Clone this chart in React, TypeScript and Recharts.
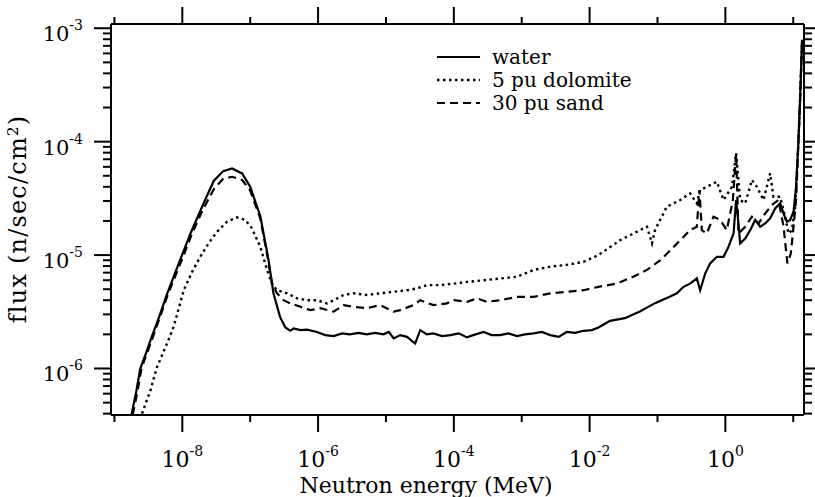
import React from 'react';
import { LineChart, Line, XAxis, YAxis, Legend, Label } from 'recharts';

// ---- data (energy in MeV, flux in n/sec/cm^2) ----
const waterEnergy = [
  1.78e-9, 2.1e-9, 2.4e-9, 2.9e-9, 3.4e-9, 4.5e-9, 6.0e-9, 8.9e-9, 1.32e-8, 2.0e-8,
  2.9e-8, 4.0e-8, 5.4e-8, 7.6e-8, 1.0e-7, 1.41e-7, 1.86e-7, 2.2e-7, 2.75e-7, 3.3e-7,
  3.9e-7, 4.37e-7, 5.5e-7, 6.9e-7, 9.6e-7, 1.28e-6, 1.7e-6, 2.25e-6, 2.95e-6, 3.95e-6,
  5.2e-6, 6.95e-6, 9.2e-6, 1.1e-5, 1.3e-5, 1.62e-5, 2.04e-5, 2.69e-5, 3.2e-5, 4.0e-5,
  5.0e-5, 6.7e-5, 8.9e-5, 1.18e-4, 1.56e-4, 2.09e-4, 2.75e-4, 3.6e-4, 4.8e-4, 6.4e-4,
  8.5e-4, 1.12e-3, 1.5e-3, 1.98e-3, 2.63e-3, 3.5e-3, 4.6e-3, 6.1e-3, 8.1e-3, 1.08e-2,
  1.35e-2, 2.0e-2, 3.3e-2, 5.6e-2, 9.2e-2, 0.151, 0.193, 0.242, 0.302, 0.38,
  0.425, 0.505, 0.597, 0.75, 0.94, 1.11, 1.32, 1.44, 1.51, 1.65,
  1.96, 2.32, 2.75, 3.26, 3.86, 4.57, 5.41, 6.41, 7.18, 8.05,
  9.0, 10.1, 11.0, 11.9, 12.6, 13.2, 13.5,
];
const waterFlux = [
  3.9e-7, 6.3e-7, 1.0e-6, 1.35e-6, 1.78e-6, 2.8e-6, 4.6e-6, 8.5e-6, 1.55e-5, 2.75e-5,
  4.5e-5, 5.5e-5, 5.8e-5, 5.25e-5, 4.0e-5, 2.2e-5, 9.1e-6, 4.6e-6, 2.85e-6, 2.3e-6,
  2.15e-6, 2.25e-6, 2.18e-6, 2.2e-6, 2.1e-6, 1.97e-6, 1.93e-6, 2.04e-6, 2.0e-6, 2.06e-6,
  2.0e-6, 2.06e-6, 2.0e-6, 2.1e-6, 1.84e-6, 1.97e-6, 1.9e-6, 1.66e-6, 2.18e-6, 2.0e-6,
  2.04e-6, 1.93e-6, 1.97e-6, 2.04e-6, 1.88e-6, 2.0e-6, 2.1e-6, 1.97e-6, 1.97e-6, 2.04e-6,
  1.93e-6, 2.0e-6, 2.04e-6, 2.1e-6, 1.97e-6, 1.9e-6, 2.1e-6, 2.06e-6, 2.15e-6, 2.18e-6,
  2.3e-6, 2.63e-6, 2.78e-6, 3.2e-6, 3.77e-6, 4.29e-6, 4.6e-6, 5.25e-6, 5.6e-6, 6.22e-6,
  4.9e-6, 6.9e-6, 8.45e-6, 9.66e-6, 9.66e-6, 1.18e-5, 1.55e-5, 3.06e-5, 2.33e-5, 1.27e-5,
  1.4e-5, 1.66e-5, 2.04e-5, 1.78e-5, 1.9e-5, 2.11e-5, 2.58e-5, 2.86e-5, 2.33e-5, 1.97e-5,
  2.04e-5, 2.41e-5, 4.0e-5, 9.8e-5, 2.33e-4, 5.26e-4, 7.9e-4,
];

const dolomiteEnergy = [
  2.55e-9, 3.4e-9, 4.24e-9, 5.95e-9, 7.45e-9, 1.05e-8, 1.39e-8, 1.84e-8, 2.44e-8, 3.24e-8,
  4.55e-8, 6.4e-8, 8.5e-8, 1.06e-7, 1.41e-7, 1.77e-7, 2.09e-7, 2.48e-7, 3.5e-7, 4.9e-7,
  6.9e-7, 9.6e-7, 1.35e-6, 1.7e-6, 2.38e-6, 3.33e-6, 5.2e-6, 8.2e-6, 1.3e-5, 2.04e-5,
  2.86e-5, 4.0e-5, 6.3e-5, 1.0e-4, 1.56e-4, 2.75e-4, 4.8e-4, 8.5e-4, 1.5e-3, 2.63e-3,
  4.6e-3, 8.1e-3, 1.35e-2, 2.8e-2, 4.4e-2, 7.0e-2, 8.3e-2, 9.2e-2, 0.137, 0.216,
  0.302, 0.38, 0.425, 0.533, 0.75, 0.94, 1.25, 1.44, 1.65, 1.96,
  2.46, 2.91, 3.64, 4.57, 5.1, 6.4, 7.6, 8.5, 9.55, 10.7,
  11.9, 12.6, 13.5,
];
const dolomiteFlux = [
  4.0e-7, 6.45e-7, 1.03e-6, 1.66e-6, 2.33e-6, 4.9e-6, 7.1e-6, 9.66e-6, 1.27e-5, 1.6e-5,
  1.97e-5, 2.15e-5, 2.04e-5, 1.72e-5, 1.18e-5, 7.4e-6, 5.6e-6, 4.9e-6, 4.6e-6, 4.15e-6,
  4.0e-6, 4.0e-6, 3.75e-6, 4.0e-6, 4.45e-6, 4.6e-6, 4.45e-6, 4.6e-6, 4.75e-6, 4.9e-6,
  5.08e-6, 5.43e-6, 5.43e-6, 5.6e-6, 5.8e-6, 6.0e-6, 6.22e-6, 6.44e-6, 7.4e-6, 7.9e-6,
  8.2e-6, 8.7e-6, 1.0e-5, 1.35e-5, 1.55e-5, 1.78e-5, 1.27e-5, 1.66e-5, 2.67e-5, 3.06e-5,
  3.5e-5, 2.86e-5, 3.75e-5, 4.0e-5, 4.43e-5, 3.06e-5, 4.0e-5, 7.9e-5, 3.06e-5, 2.86e-5,
  4.6e-5, 4.0e-5, 3.06e-5, 5.26e-5, 3.27e-5, 3.27e-5, 2.18e-5, 1.55e-5, 1.66e-5, 2.67e-5,
  9.8e-5, 2.33e-4, 7.9e-4,
];

const sandEnergy = [
  1.86e-9, 2.19e-9, 2.5e-9, 3.55e-9, 6.3e-9, 1.0e-8, 1.41e-8, 2.0e-8, 2.9e-8, 4.0e-8,
  5.4e-8, 7.6e-8, 1.0e-7, 1.41e-7, 1.78e-7, 2.1e-7, 2.48e-7, 3.1e-7, 3.9e-7, 5.5e-7,
  7.7e-7, 1.08e-6, 1.7e-6, 2.38e-6, 3.33e-6, 5.2e-6, 8.2e-6, 1.3e-5, 1.62e-5, 2.55e-5,
  3.2e-5, 5.0e-5, 7.9e-5, 1.0e-4, 1.56e-4, 2.19e-4, 3.07e-4, 4.8e-4, 8.5e-4, 1.5e-3,
  2.63e-3, 4.6e-3, 8.1e-3, 1.35e-2, 2.5e-2, 4.4e-2, 7.0e-2, 0.11, 0.154, 0.216,
  0.302, 0.38, 0.415, 0.45, 0.533, 0.668, 0.84, 1.05, 1.29, 1.44,
  1.56, 1.96, 2.46, 3.08, 3.86, 4.84, 6.06, 7.2, 8.2, 9.2,
  10.1, 11.0, 11.9, 12.6, 13.5,
];
const sandFlux = [
  3.9e-7, 6.3e-7, 1.0e-6, 1.78e-6, 4.7e-6, 9.3e-6, 1.58e-5, 2.5e-5, 3.8e-5, 4.7e-5,
  4.9e-5, 4.6e-5, 3.7e-5, 2.1e-5, 1.0e-5, 5.6e-6, 4.6e-6, 4.0e-6, 3.75e-6, 3.5e-6,
  3.27e-6, 3.4e-6, 3.17e-6, 3.62e-6, 3.5e-6, 3.4e-6, 3.62e-6, 3.17e-6, 3.27e-6, 3.62e-6,
  4.0e-6, 3.62e-6, 3.75e-6, 4.0e-6, 3.87e-6, 4.15e-6, 3.87e-6, 4.0e-6, 4.28e-6, 4.28e-6,
  4.6e-6, 4.75e-6, 4.9e-6, 5.25e-6, 5.6e-6, 6.44e-6, 7.4e-6, 9.0e-6, 1.1e-5, 1.35e-5,
  1.66e-5, 1.78e-5, 3.75e-5, 1.66e-5, 1.55e-5, 2.18e-5, 2.04e-5, 1.66e-5, 3.06e-5, 7.9e-5,
  1.55e-5, 1.78e-5, 2.18e-5, 1.9e-5, 2.33e-5, 2.76e-5, 3.06e-5, 1.78e-5, 8.45e-6, 1.03e-5,
  1.78e-5, 3.06e-5, 9.8e-5, 2.33e-4, 7.9e-4,
];

const seriesNames = ['water', '5 pu dolomite', '30 pu sand'];
const xMajorExponents = [-8, -6, -4, -2, 0];
const yMajorExponents = [-6, -5, -4, -3];
const xTitle = 'Neutron energy (MeV)';
const yTitle = 'flux (n/sec/cm';

// ---- layout ----
const X_DOMAIN: [number, number] = [8.9e-10, 14.4];
const Y_DOMAIN: [number, number] = [3.89e-7, 1.09e-3];
const FONT = '"DejaVu Serif", serif';

const toPoints = (e: number[], f: number[]) => e.map((v, i) => ({ e: v, f: f[i] }));
const waterData = toPoints(waterEnergy, waterFlux);
const dolomiteData = toPoints(dolomiteEnergy, dolomiteFlux);
const sandData = toPoints(sandEnergy, sandFlux);

const xTicks: number[] = [];
for (let p = -9; p <= 1; p++) xTicks.push(Number(`1e${p}`));
const yTicks: number[] = [];
for (let p = -7; p <= -3; p++) {
  for (let m = 1; m <= 9; m++) {
    const v = Number(`${m}e${p}`);
    if (v >= Y_DOMAIN[0] && v <= Y_DOMAIN[1]) yTicks.push(v);
  }
}

const styles = [
  { stroke: '#000', strokeWidth: 2.2, dash: undefined as string | undefined },
  { stroke: '#000', strokeWidth: 2.4, dash: '2.5 3.5' },
  { stroke: '#000', strokeWidth: 2.2, dash: '8 5' },
];

const XTick = (props: any) => {
  const { x, y, payload, side } = props;
  const exp = Math.round(Math.log10(payload.value));
  const major = xMajorExponents.includes(exp);
  const dir = side === 'top' ? -1 : 1;
  const len = major ? 17 : 7;
  return (
    <g>
      <line x1={x} x2={x} y1={y} y2={y + dir * len} stroke="#000" strokeWidth={2} />
      {side === 'bottom' && major && (
        <text x={x} y={y + 52} textAnchor="middle" fontFamily={FONT} fontSize={22} fill="#000">
          10
          <tspan dy={-11} fontSize={14}>{`${exp}`}</tspan>
        </text>
      )}
    </g>
  );
};

const YTick = (props: any) => {
  const { x, y, payload, side } = props;
  const lg = Math.log10(payload.value);
  const exp = Math.round(lg);
  const major = Math.abs(lg - exp) < 1e-6;
  const dir = side === 'left' ? -1 : 1;
  const len = major ? (side === 'left' ? 17 : 12) : 8;
  return (
    <g>
      <line x1={x} x2={x + dir * len} y1={y} y2={y} stroke="#000" strokeWidth={2} />
      {side === 'left' && major && yMajorExponents.includes(exp) && (
        <text x={x - 28} y={y + 13} textAnchor="end" fontFamily={FONT} fontSize={21} fill="#000">
          10
          <tspan dy={-11} fontSize={14}>{`${exp}`}</tspan>
        </text>
      )}
    </g>
  );
};

const LegendContent = () => (
  <svg width={280} height={80} style={{ overflow: 'visible', display: 'block' }}>
    {seriesNames.map((name, i) => {
      const cy = 17 + i * 23;
      const s = styles[i];
      return (
        <g key={name}>
          <line x1={7} x2={50} y1={cy} y2={cy} stroke={s.stroke} strokeWidth={s.strokeWidth} strokeDasharray={s.dash} />
          <text x={62} y={cy + 7} fontFamily={FONT} fontSize={20} fill="#000">{name}</text>
        </g>
      );
    })}
  </svg>
);

const XTitle = (props: any) => {
  const vb = props.viewBox || { x: 111, y: 415, width: 693 };
  return (
    <text x={vb.x + 315} y={vb.y + 78} textAnchor="middle" fontFamily={FONT} fontSize={22} fill="#000">
      {xTitle}
    </text>
  );
};

const YTitle = (props: any) => {
  const vb = props.viewBox || { x: 110, y: 24, height: 391 };
  const cx = vb.x - 84;
  const cy = vb.y + 195;
  return (
    <text
      x={cx}
      y={cy}
      transform={`rotate(-90, ${cx}, ${cy})`}
      textAnchor="middle"
      fontFamily={FONT}
      fontSize={24}
      letterSpacing={1.2}
      fill="#000"
    >
      {yTitle}
      <tspan dy={-8} fontSize={15}>2</tspan>
      <tspan dy={8}>)</tspan>
    </text>
  );
};

const axisLine = { stroke: '#000', strokeWidth: 2 };

export default function App() {
  return (
    <div style={{ position: 'absolute', left: 0, top: 0, background: '#fff' }}>
      <LineChart width={815} height={497} margin={{ top: 23, right: 10, bottom: 81, left: 110 }}>
        <XAxis
          xAxisId="bottom"
          dataKey="e"
          type="number"
          scale="log"
          domain={X_DOMAIN}
          allowDataOverflow
          ticks={xTicks}
          interval={0}
          orientation="bottom"
          height={1}
          tickSize={0}
          tickMargin={0}
          tickLine={false}
          axisLine={axisLine}
          tick={<XTick side="bottom" />}
        >
          <Label content={<XTitle />} />
        </XAxis>
        <XAxis
          xAxisId="top"
          dataKey="e"
          type="number"
          scale="log"
          domain={X_DOMAIN}
          allowDataOverflow
          ticks={xTicks}
          interval={0}
          orientation="top"
          height={1}
          tickSize={0}
          tickMargin={0}
          tickLine={false}
          axisLine={axisLine}
          tick={<XTick side="top" />}
        />
        <YAxis
          yAxisId="left"
          dataKey="f"
          type="number"
          scale="log"
          domain={Y_DOMAIN}
          allowDataOverflow
          ticks={yTicks}
          interval={0}
          orientation="left"
          width={1}
          tickSize={0}
          tickMargin={0}
          tickLine={false}
          axisLine={axisLine}
          tick={<YTick side="left" />}
        >
          <Label content={<YTitle />} />
        </YAxis>
        <YAxis
          yAxisId="right"
          dataKey="f"
          type="number"
          scale="log"
          domain={Y_DOMAIN}
          allowDataOverflow
          ticks={yTicks}
          interval={0}
          orientation="right"
          width={1}
          tickSize={0}
          tickMargin={0}
          tickLine={false}
          axisLine={axisLine}
          tick={<YTick side="right" />}
        />
        <Legend
          layout="vertical"
          align="center"
          verticalAlign="middle"
          content={<LegendContent />}
          wrapperStyle={{ position: 'absolute', left: 430, top: 40, width: 280, height: 80 }}
        />
        <Line
          xAxisId="bottom"
          yAxisId="left"
          data={waterData}
          dataKey="f"
          name={seriesNames[0]}
          type="linear"
          dot={false}
          stroke={styles[0].stroke}
          strokeWidth={styles[0].strokeWidth}
          isAnimationActive={false}
        />
        <Line
          xAxisId="bottom"
          yAxisId="left"
          data={dolomiteData}
          dataKey="f"
          name={seriesNames[1]}
          type="linear"
          dot={false}
          stroke={styles[1].stroke}
          strokeWidth={styles[1].strokeWidth}
          strokeDasharray={styles[1].dash}
          isAnimationActive={false}
        />
        <Line
          xAxisId="bottom"
          yAxisId="left"
          data={sandData}
          dataKey="f"
          name={seriesNames[2]}
          type="linear"
          dot={false}
          stroke={styles[2].stroke}
          strokeWidth={styles[2].strokeWidth}
          strokeDasharray={styles[2].dash}
          isAnimationActive={false}
        />
      </LineChart>
    </div>
  );
}
